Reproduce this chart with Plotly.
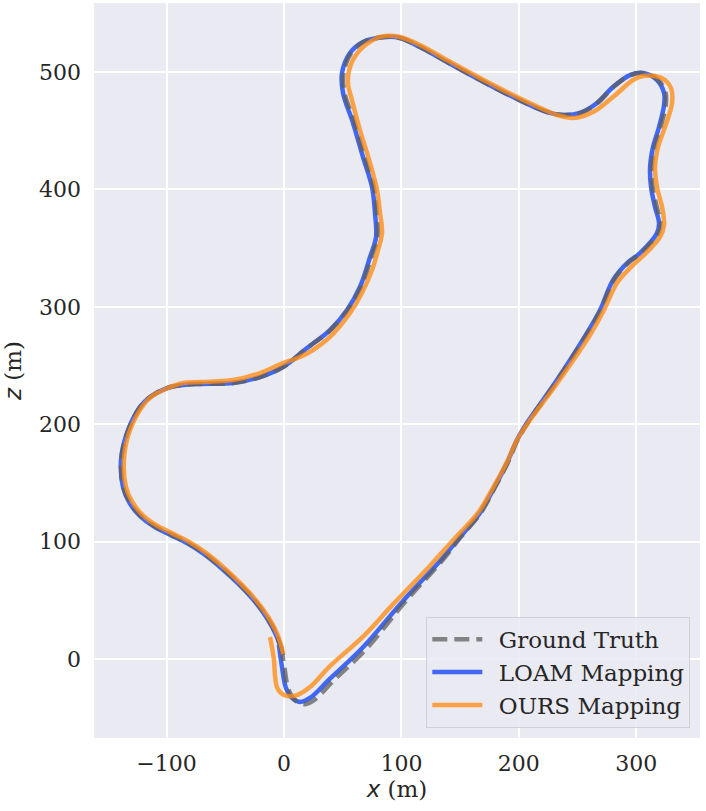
import plotly.graph_objects as go

# trajectories (x, z in metres)
gt_x = [-2.5, 0.5, 4.0, 10.0, 17.0, 25.0, 42.0, 70.0, 103.0, 134.0, 150.5, 167.5, 178.5, 190.5, 199.0,
        207.5, 233.0, 258.5, 269.8, 281.0, 293.0, 304.2, 319.0, 320.8, 317.5, 314.0, 313.3, 315.8, 320.8,
        325.2, 325.0, 318.8, 306.5, 295.0, 280.5, 266.8, 252.3, 237.8, 224.2, 195.2, 167.0, 138.9, 115.9,
        98.9, 86.0, 67.8, 57.2, 50.7, 51.6, 60.2, 68.6, 76.4, 79.0, 79.8, 74.5, 65.6, 54.3, 39.5, 19.7,
        -0.8, -20.3, -43.3, -71.5, -86.0, -99.6, -114.0, -122.6, -133.5, -138.6, -136.9, -131.0, -122.0,
        -110.0, -96.0, -82.0, -68.0, -52.0, -38.0, -25.0, -14.0, -6.0, -0.8]
gt_z = [11.0, -8.0, -26.5, -35.5, -38.5, -35.5, -18.5, 8.5, 48.5, 83.0, 103.8, 124.4, 144.0, 167.0, 186.5,
        201.0, 237.6, 277.7, 297.3, 322.8, 337.3, 345.8, 362.9, 371.4, 385.0, 402.0, 419.1, 436.1, 453.2,
        471.9, 482.1, 493.2, 499.0, 497.4, 487.2, 473.6, 465.1, 463.4, 465.9, 478.7, 493.2, 508.5, 521.3,
        529.0, 529.8, 525.6, 516.2, 499.1, 482.1, 456.6, 427.6, 402.0, 379.9, 359.5, 342.4, 316.9, 297.3,
        280.2, 264.9, 248.7, 240.2, 235.1, 234.3, 233.4, 230.8, 223.2, 214.7, 192.5, 169.5, 146.5, 133.0,
        122.0, 113.0, 106.0, 99.0, 90.0, 77.0, 64.0, 50.0, 35.0, 20.0, 3.0]

loam_x = [-4.3, -1.7, 1.7, 6.8, 13.6, 22.1, 39.2, 67.3, 101.4, 132.9, 149.9, 166.9, 178.0, 189.9, 198.4,
          206.9, 232.5, 258.1, 269.2, 280.2, 292.2, 303.2, 317.7, 319.4, 316.0, 312.6, 311.8, 314.3, 319.4,
          323.7, 323.7, 317.7, 305.8, 294.7, 280.2, 266.6, 252.1, 237.6, 224.0, 195.1, 166.9, 138.8, 115.8,
          98.8, 86.0, 67.3, 56.2, 49.4, 50.3, 58.8, 67.3, 75.0, 77.5, 78.4, 73.3, 64.7, 53.7, 39.2, 19.6,
          -0.9, -20.4, -43.4, -71.6, -86.0, -99.7, -114.1, -122.7, -133.7, -138.8, -137.1, -131.3, -122.3,
          -110.3, -96.3, -82.3, -68.3, -52.3, -38.3, -25.3, -14.3, -6.3, -1.0]
loam_z = [11.9, -6.8, -24.7, -33.2, -36.6, -33.2, -16.8, 10.0, 49.5, 83.5, 103.9, 124.4, 144.0, 167.0, 186.5,
          201.0, 237.6, 277.7, 297.3, 322.8, 337.3, 345.8, 362.9, 371.4, 385.0, 402.0, 419.1, 436.1, 453.2,
          471.9, 482.1, 493.2, 499.1, 497.4, 487.2, 473.6, 465.1, 463.4, 465.9, 478.7, 493.2, 508.5, 521.3,
          529.0, 529.8, 525.6, 516.2, 499.1, 482.1, 456.6, 427.6, 402.0, 379.9, 359.5, 342.4, 316.9, 297.3,
          280.2, 264.9, 248.7, 240.2, 235.1, 234.3, 233.4, 230.8, 223.2, 214.7, 192.5, 169.5, 146.5, 132.5,
          121.5, 112.5, 105.5, 98.5, 89.5, 76.5, 63.5, 49.5, 34.5, 19.5, 3.0]

ours_x = [-11.9, -8.5, -7.7, -6.0, -2.6, 2.6, 11.1, 22.1, 39.2, 67.3, 92.8, 124.4, 145.7, 165.2, 178.0,
          189.9, 198.4, 207.8, 233.4, 260.6, 271.7, 283.6, 295.6, 309.2, 320.3, 323.7, 322.0, 317.7, 316.0,
          318.6, 324.5, 330.5, 329.6, 324.5, 316.0, 305.8, 297.3, 280.2, 263.2, 246.2, 232.5, 222.3, 195.1,
          166.9, 138.8, 115.8, 98.8, 86.0, 79.2, 64.7, 56.2, 54.5, 57.9, 64.7, 73.3, 79.2, 81.8, 83.5, 80.1,
          75.0, 66.4, 56.2, 39.2, 24.7, 13.6, -0.9, -20.4, -43.4, -71.6, -86.0, -98.8, -113.3, -121.0,
          -132.0, -136.3, -134.6, -129.0, -120.5, -108.8, -95.0, -81.0, -67.2, -51.4, -37.6, -24.6, -13.6,
          -5.6, -0.5]
ours_z = [18.7, -0.9, -13.6, -23.9, -29.0, -31.5, -30.7, -23.9, -6.0, 19.0, 46.5, 79.5, 103.1, 124.4, 145.7,
          167.8, 186.5, 201.0, 235.9, 276.0, 295.6, 320.3, 333.9, 346.7, 359.5, 369.7, 385.0, 402.0, 419.1,
          436.1, 453.2, 473.6, 486.4, 493.2, 496.6, 496.6, 493.2, 478.7, 465.9, 460.8, 463.4, 467.6, 480.4,
          494.9, 510.2, 523.0, 529.8, 530.7, 529.0, 518.7, 504.3, 490.6, 476.1, 450.6, 422.5, 399.5, 379.9,
          362.9, 348.4, 331.3, 311.8, 294.7, 274.3, 263.2, 257.2, 252.1, 243.6, 237.6, 235.9, 235.1, 230.8,
          223.2, 214.7, 192.5, 169.5, 146.5, 133.5, 122.8, 114.0, 107.0, 100.0, 91.0, 78.0, 65.0, 51.0,
          36.0, 21.0, 4.0]

font = "DejaVu Serif"
ink = "#262626"
gap = "\u2002"  # a little room between legend swatch and label

fig = go.Figure()
fig.add_trace(go.Scatter(x=loam_x, y=loam_z, mode="lines", name=gap + "LOAM Mapping", legendrank=2,
                         line=dict(color="rgba(45,90,245,0.9)", width=4.5, shape="spline")))
fig.add_trace(go.Scatter(x=gt_x, y=gt_z, mode="lines", name=gap + "Ground Truth", legendrank=1,
                         line=dict(color="rgba(95,95,95,0.75)", width=4.5, dash="15px,7px", shape="spline")))
fig.add_trace(go.Scatter(x=ours_x, y=ours_z, mode="lines", name=gap + "OURS Mapping", legendrank=3,
                         line=dict(color="rgba(255,140,20,0.78)", width=4.5, shape="spline")))

fig.update_layout(
    width=706, height=811,
    margin=dict(l=94, r=6, t=3, b=73),
    paper_bgcolor="white", plot_bgcolor="#EAEAF2",
    font=dict(family=font, size=22, color=ink),
    legend=dict(x=0.984, y=0.014, xanchor="right", yanchor="bottom",
                bgcolor="rgba(234,234,242,0.85)", bordercolor="#d0d0d6", borderwidth=1,
                font=dict(family=font, size=23, color=ink), itemwidth=50,
                tracegroupgap=0),
)
fig.update_xaxes(range=[-161.8, 354.3], dtick=100, showgrid=True, gridcolor="white", gridwidth=1.5,
                 zeroline=False, showline=False, ticks="", ticklabelstandoff=10, automargin=False,
                 title=dict(text="<span style='font-family:DejaVu Sans'><i>x</i></span> (m)",
                            font=dict(size=23), standoff=5))
fig.update_yaxes(range=[-67.3, 558.8], dtick=100, showgrid=True, gridcolor="white", gridwidth=1.5,
                 zeroline=False, showline=False, ticks="", ticklabelstandoff=12, automargin=False,
                 title=dict(text="<span style='font-family:DejaVu Sans'><i>z</i></span> (m)",
                            font=dict(size=23), standoff=10))

fig.write_html("out.html", config={"displayModeBar": False},
               post_script="document.body.style.margin='0';document.body.style.overflow='hidden';")
